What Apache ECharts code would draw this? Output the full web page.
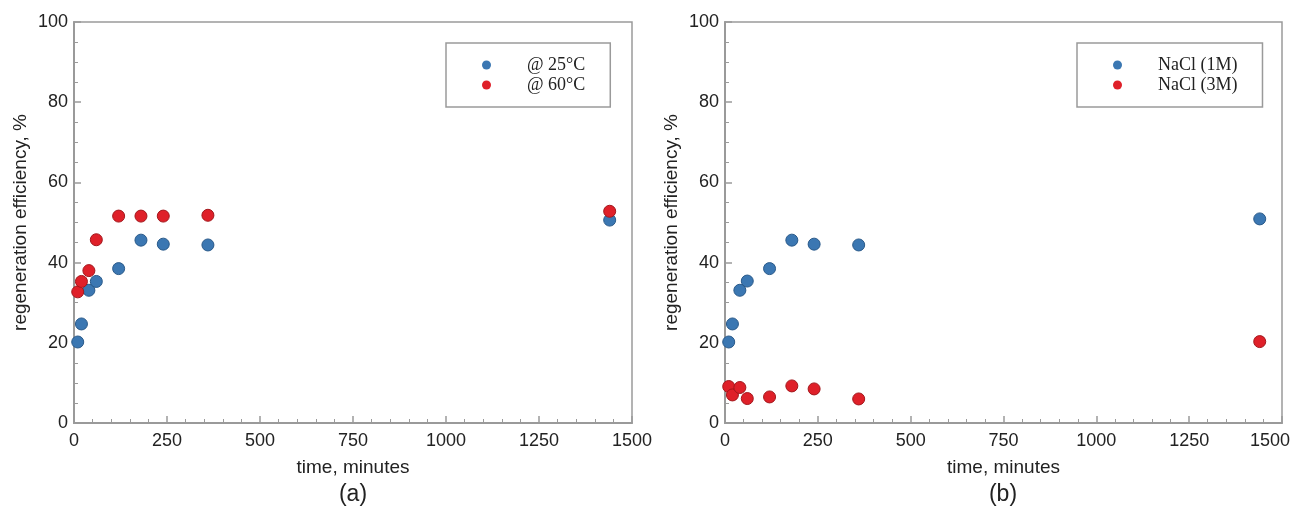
<!DOCTYPE html>
<html>
<head>
<meta charset="utf-8">
<script src="https://cdn.jsdelivr.net/npm/echarts@6/dist/echarts.min.js"></script>
<style>html,body{margin:0;padding:0;background:#fff}#c{width:1291px;height:513px}</style>
</head>
<body>
<div id="c"></div>
<script>
// ---- data ----
const timeA25 = [10, 20, 40, 60, 120, 180, 240, 360, 1440];
const effA25  = [20.2, 24.7, 33.1, 35.3, 38.5, 45.6, 44.6, 44.4, 50.6];
const timeA60 = [10, 20, 40, 60, 120, 180, 240, 360, 1440];
const effA60  = [32.7, 35.3, 38.0, 45.7, 51.6, 51.6, 51.6, 51.8, 52.8];
const timeB1  = [10, 20, 40, 60, 120, 180, 240, 360, 1440];
const effB1   = [20.2, 24.7, 33.1, 35.4, 38.5, 45.6, 44.6, 44.4, 50.9];
const timeB3  = [10, 20, 40, 60, 120, 180, 240, 360, 1440];
const effB3   = [9.1, 7.0, 8.85, 6.1, 6.5, 9.25, 8.5, 6.0, 20.3];
const namesA = ['@ 25°C', '@ 60°C'];
const namesB = ['NaCl (1M)', 'NaCl (3M)'];
const xTitle = 'time, minutes';
const yTitle = 'regeneration efficiency, %';
const panelLabels = ['(a)', '(b)'];

const zip = (xs, ys) => xs.map((x, i) => [x, ys[i]]);
const BLUE = '#3b77b2', BLUE_B = '#2a5a8a';
const RED = '#df2029', RED_B = '#a3171c';
const AX = '#9a9a9a';

function xAxis(gi, shiftMax) {
  return {
    gridIndex: gi, type: 'value', min: 0, max: 1500, interval: 250,
    name: xTitle, nameLocation: 'middle', nameGap: 35,
    nameTextStyle: { fontFamily: 'Liberation Sans', fontSize: 19, color: '#222' },
    axisLine: { show: true, lineStyle: { color: AX, width: 2 } },
    axisTick: { show: true, inside: true, length: 7, lineStyle: { color: AX, width: 1.5 } },
    minorTick: { show: true, splitNumber: 5, length: 4, lineStyle: { color: AX, width: 1 } },
    splitLine: { show: false },
    axisLabel: {
      fontFamily: 'Liberation Sans', fontSize: 18, color: '#222', margin: 9,
      formatter: v => (shiftMax && v === 1500) ? '{m|' + v + '}' : String(v),
      rich: { m: { fontFamily: 'Liberation Sans', fontSize: 18, color: '#222', padding: [0, 24, 0, 0] } }
    }
  };
}
function yAxis(gi) {
  return {
    gridIndex: gi, type: 'value', min: 0, max: 100, interval: 20,
    name: yTitle, nameLocation: 'middle', nameGap: 44,
    nameTextStyle: { fontFamily: 'Liberation Sans', fontSize: 19, color: '#222' },
    axisLine: { show: true, lineStyle: { color: AX, width: 2 } },
    axisTick: { show: true, inside: true, length: 7, lineStyle: { color: AX, width: 1.5 } },
    minorTick: { show: true, splitNumber: 4, length: 4, lineStyle: { color: AX, width: 1 } },
    splitLine: { show: false },
    axisLabel: { fontFamily: 'Liberation Sans', fontSize: 18, color: '#222', margin: 6, formatter: v => String(v) }
  };
}
function scatter(name, gi, data, c, b) {
  return {
    name, type: 'scatter', xAxisIndex: gi, yAxisIndex: gi, data,
    symbol: 'circle', symbolSize: 12, clip: true,
    itemStyle: { color: c, borderColor: b, borderWidth: 1, opacity: 1 },
    emphasis: { disabled: true }
  };
}
function legend(names, left, padRight) {
  return {
    data: names, orient: 'vertical', left, top: 43,
    icon: 'circle', itemWidth: 9, itemHeight: 9, itemGap: 2,
    padding: [13, padRight, 13, 36],
    borderColor: AX, borderWidth: 1.5, backgroundColor: '#fff',
    itemStyle: { borderWidth: 0, opacity: 1 },
    textStyle: { fontFamily: 'Liberation Serif', fontSize: 18, lineHeight: 16, color: '#222', padding: [0, 0, 0, 31] }
  };
}

const chart = echarts.init(document.getElementById('c'), null, { renderer: 'canvas' });
chart.setOption({
  animation: false,
  backgroundColor: '#fff',
  grid: [
    { left: 74, top: 22, width: 558, height: 401, show: true, borderColor: AX, borderWidth: 1.5, backgroundColor: 'transparent', outerBoundsMode: 'none', containLabel: false },
    { left: 725, top: 22, width: 557, height: 401, show: true, borderColor: AX, borderWidth: 1.5, backgroundColor: 'transparent', outerBoundsMode: 'none', containLabel: false }
  ],
  xAxis: [xAxis(0, false), xAxis(1, true)],
  yAxis: [yAxis(0), yAxis(1)],
  legend: [legend(namesA, 446, 25), legend(namesB, 1077, 25)],
  graphic: [
    { type: 'text', x: 353, y: 495, style: { text: panelLabels[0], fontFamily: 'Liberation Sans', fontSize: 23, fill: '#222', textAlign: 'center', textVerticalAlign: 'middle' } },
    { type: 'text', x: 1003, y: 495, style: { text: panelLabels[1], fontFamily: 'Liberation Sans', fontSize: 23, fill: '#222', textAlign: 'center', textVerticalAlign: 'middle' } }
  ],
  series: [
    scatter(namesA[0], 0, zip(timeA25, effA25), BLUE, BLUE_B),
    scatter(namesA[1], 0, zip(timeA60, effA60), RED, RED_B),
    scatter(namesB[0], 1, zip(timeB1, effB1), BLUE, BLUE_B),
    scatter(namesB[1], 1, zip(timeB3, effB3), RED, RED_B)
  ]
});
</script>
</body>
</html>
